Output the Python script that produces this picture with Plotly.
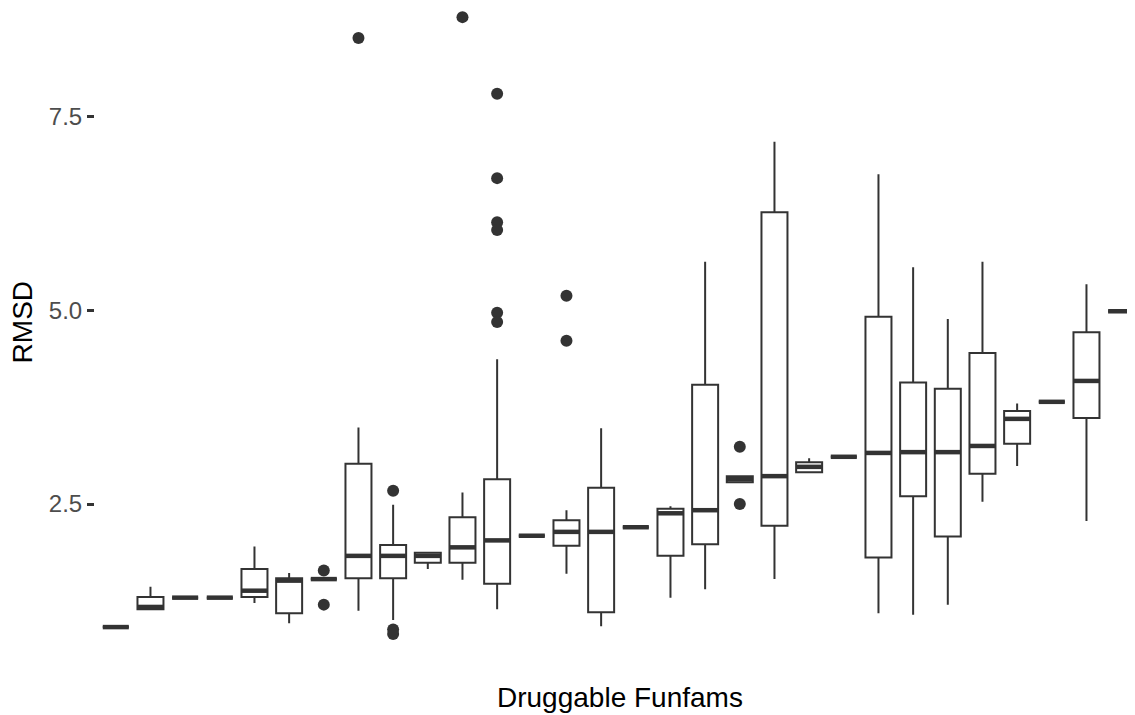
import plotly.graph_objects as go

# Category index of each Funfam (x axis has no tick labels)
categories = list(range(1, 31))

q1 = [0.91, 1.14, 1.29, 1.29, 1.30, 1.09, 1.53, 1.54, 1.54, 1.74,
      1.74, 1.47, 2.09, 1.96, 1.10, 2.20, 1.83, 1.98, 2.78, 2.22,
      2.91, 3.11, 1.81, 2.60, 2.08, 2.89, 3.28, 3.82, 3.61, 4.99]
median = [0.91, 1.17, 1.29, 1.29, 1.38, 1.51, 1.53, 1.83, 1.83, 1.83,
          1.94, 2.03, 2.09, 2.14, 2.14, 2.20, 2.38, 2.42, 2.82, 2.86,
          2.98, 3.11, 3.16, 3.17, 3.17, 3.25, 3.60, 3.82, 4.09, 4.99]
q3 = [0.91, 1.30, 1.29, 1.29, 1.66, 1.54, 1.53, 3.02, 1.97, 1.87,
      2.33, 2.82, 2.09, 2.29, 2.71, 2.20, 2.44, 4.04, 2.86, 6.27,
      3.04, 3.11, 4.92, 4.07, 3.99, 4.45, 3.70, 3.82, 4.72, 4.99]
lower_whisker = [0.91, 1.14, 1.29, 1.29, 1.22, 0.96, 1.53, 1.12, 1.00, 1.66,
                 1.52, 1.14, 2.09, 1.60, 0.92, 2.20, 1.29, 1.40, 2.78, 1.53,
                 2.90, 3.11, 1.09, 1.07, 1.20, 2.53, 2.99, 3.82, 2.28, 4.99]
upper_whisker = [0.91, 1.43, 1.29, 1.29, 1.95, 1.61, 1.53, 3.49, 2.49, 1.87,
                 2.65, 4.37, 2.09, 2.42, 3.48, 2.20, 2.47, 5.63, 2.86, 7.18,
                 3.09, 3.11, 6.76, 5.56, 4.89, 5.63, 3.80, 3.82, 5.34, 4.99]

outlier_cat = [7, 7, 8, 9, 9, 9, 11, 12, 12, 12, 12, 12, 12, 14, 14, 19, 19]
outlier_val = [1.64, 1.20, 8.52, 2.67, 0.88, 0.82, 8.79, 7.80, 6.71, 6.14,
               6.04, 4.97, 4.85, 5.19, 4.61, 3.24, 2.50]

y_ticks = [2.5, 5.0, 7.5]
y_tick_labels = ["2.5", "5.0", "7.5"]

ink = "#333333"
font_family = "Liberation Sans, Arial, sans-serif"

fig = go.Figure()
fig.add_trace(go.Box(
    x=categories, q1=q1, median=median, q3=q3,
    lowerfence=lower_whisker, upperfence=upper_whisker,
    width=0.75, whiskerwidth=0, boxpoints=False,
    fillcolor="white", line=dict(color=ink, width=2),
    showlegend=False, hoverinfo="skip",
))
fig.add_trace(go.Scatter(
    x=categories, y=median, mode="markers",
    marker=dict(symbol="line-ew", size=18.6, color=ink,
                line=dict(color=ink, width=4.5)),
    showlegend=False, hoverinfo="skip", cliponaxis=False,
))
fig.add_trace(go.Scatter(
    x=outlier_cat, y=outlier_val, mode="markers",
    marker=dict(size=12, color=ink),
    showlegend=False, hoverinfo="skip", cliponaxis=False,
))

# The page body adds an 8 px offset, so the figure is 8 px smaller than the window.
fig.update_layout(
    width=1127, height=707,
    margin=dict(l=87, r=0, t=0, b=51),
    paper_bgcolor="white", plot_bgcolor="white",
    font=dict(family=font_family),
    hovermode=False,
    xaxis=dict(range=[0.4, 30.4], showticklabels=False, ticks="",
               showgrid=False, zeroline=False, showline=False),
    yaxis=dict(range=[0.433, 8.908], tickvals=y_ticks, ticktext=y_tick_labels,
               ticks="outside", ticklen=7, tickwidth=2.5, tickcolor=ink,
               tickfont=dict(size=24, color="#4D4D4D", family=font_family),
               showgrid=False, zeroline=False, showline=False),
    annotations=[
        dict(text="RMSD", xref="paper", yref="paper", x=-0.0697, y=0.52,
             textangle=-90, showarrow=False, xanchor="center", yanchor="middle",
             font=dict(size=28, color="black", family=font_family)),
        dict(text="Druggable Funfams", xref="paper", yref="paper", x=0.5047, y=-0.0518,
             showarrow=False, xanchor="center", yanchor="middle",
             font=dict(size=28, color="black", family=font_family)),
    ],
)

fig.write_html("out.html", config={"displayModeBar": False})
